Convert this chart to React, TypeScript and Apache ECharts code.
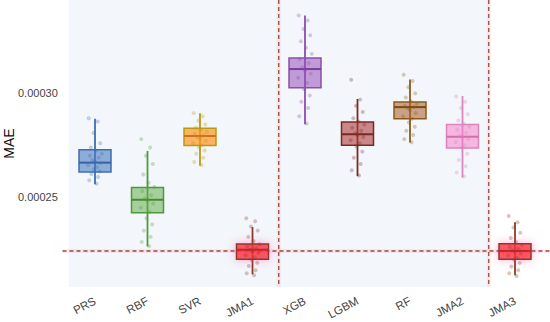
import { useEffect, useRef } from 'react';
import * as echarts from 'echarts';

const categories = ['PRS', 'RBF', 'SVR', 'JMA1', 'XGB', 'LGBM', 'RF', 'JMA2', 'JMA3'];

// [min, Q1, median, Q3, max]
const boxStats = [
  [0.0002563, 0.0002622, 0.0002667, 0.0002729, 0.0002878],
  [0.0002264, 0.0002426, 0.0002489, 0.0002547, 0.0002723],
  [0.0002652, 0.0002749, 0.0002795, 0.0002832, 0.0002905],
  [0.0002130, 0.0002203, 0.0002248, 0.0002276, 0.0002357],
  [0.0002851, 0.0003027, 0.0003117, 0.0003170, 0.0003375],
  [0.0002602, 0.0002751, 0.0002804, 0.0002862, 0.0002973],
  [0.0002764, 0.0002878, 0.0002934, 0.0002958, 0.0003067],
  [0.0002595, 0.0002737, 0.0002792, 0.0002850, 0.0002987],
  [0.0002125, 0.0002202, 0.0002242, 0.0002277, 0.0002380],
];

const pointsPRS = [0.000288, 0.0002865, 0.000281, 0.000276, 0.000274, 0.0002725, 0.000271, 0.00027, 0.000269, 0.000268, 0.0002672, 0.0002665, 0.0002655, 0.0002645, 0.0002635, 0.0002625, 0.0002612, 0.0002598, 0.0002582, 0.0002565];
const pointsRBF = [0.000278, 0.000274, 0.00027, 0.000266, 0.000261, 0.000257, 0.000255, 0.000253, 0.000251, 0.0002495, 0.0002485, 0.000247, 0.000245, 0.000243, 0.00024, 0.000237, 0.000234, 0.000231, 0.0002285, 0.0002265];
const pointsSVR = [0.0002905, 0.000289, 0.000287, 0.000285, 0.0002835, 0.0002825, 0.0002815, 0.0002805, 0.0002798, 0.000279, 0.0002782, 0.0002772, 0.000276, 0.000275, 0.000274, 0.0002725, 0.000271, 0.000269, 0.000267, 0.0002655];
const pointsJMA1 = [0.00024, 0.0002385, 0.000236, 0.000234, 0.000231, 0.000229, 0.0002275, 0.0002265, 0.0002255, 0.0002248, 0.000224, 0.0002232, 0.0002222, 0.0002212, 0.00022, 0.0002185, 0.000217, 0.000215, 0.0002135, 0.0002125];
const pointsXGB = [0.0003375, 0.000335, 0.000331, 0.000328, 0.000325, 0.000322, 0.000319, 0.0003165, 0.0003145, 0.0003125, 0.000311, 0.0003095, 0.0003075, 0.000305, 0.000302, 0.000299, 0.000296, 0.000293, 0.000289, 0.0002855];
const pointsLGBM = [0.0003066, 0.000297, 0.000294, 0.000291, 0.000288, 0.0002865, 0.000285, 0.0002835, 0.000282, 0.0002808, 0.00028, 0.000279, 0.0002775, 0.000276, 0.0002745, 0.000272, 0.000269, 0.000266, 0.000263, 0.0002605];
const pointsRF = [0.000309, 0.000306, 0.000303, 0.0003, 0.000298, 0.0002962, 0.000295, 0.000294, 0.0002935, 0.0002928, 0.000292, 0.0002905, 0.000289, 0.0002878, 0.000286, 0.000284, 0.000282, 0.00028, 0.000278, 0.0002765];
const pointsJMA2 = [0.0002985, 0.000296, 0.000293, 0.00029, 0.000287, 0.0002855, 0.000284, 0.0002825, 0.000281, 0.0002798, 0.000279, 0.000278, 0.0002765, 0.000275, 0.0002738, 0.000271, 0.000268, 0.000265, 0.000262, 0.00026];
const pointsJMA3 = [0.000241, 0.000238, 0.0002355, 0.000233, 0.0002305, 0.0002285, 0.0002272, 0.0002262, 0.0002252, 0.0002245, 0.0002238, 0.000223, 0.000222, 0.000221, 0.00022, 0.0002185, 0.0002168, 0.000215, 0.0002135, 0.0002122];
const pointSets = [pointsPRS, pointsRBF, pointsSVR, pointsJMA1, pointsXGB, pointsLGBM, pointsRF, pointsJMA2, pointsJMA3];

// horizontal jitter (in category units) of the strip points
const jitter = [-0.12, 0.05, -0.03, 0.1, -0.08, 0.02, 0.13, -0.1, 0.07, -0.05, 0.0, 0.11, -0.13, 0.04, -0.02, 0.09, -0.07, 0.06, -0.11, 0.03];

const yTicks = [0.00025, 0.0003];
const yMin = 0.0002069;
const yMax = 0.0003449;
const refValue = 0.0002242;
const dividers = [3.5, 7.5];
const refLineSpan = [-0.62, 8.72];

const fills = ['rgba(74,125,195,0.6)', 'rgba(100,175,80,0.55)', 'rgba(255,150,40,0.72)', 'rgba(255,45,45,0.75)', 'rgba(150,80,185,0.55)', 'rgba(175,60,60,0.6)', 'rgba(175,105,55,0.6)', 'rgba(245,130,205,0.55)', 'rgba(255,45,45,0.75)'];
const borders = ['#3f6eb0', '#4e9a3a', '#b99a10', '#8b3a2a', '#8a4fab', '#7a2a22', '#8b5a1a', '#d886bb', '#8b3a2a'];
const medians = ['#3a62a0', '#4a8a35', '#c8741a', '#c0282a', '#7a3f9a', '#7a2a22', '#7a4a10', '#d070aa', '#c0282a'];
const glow = [false, false, false, true, false, false, false, false, true];

const FONT = 'Liberation Sans, Arial, sans-serif';

export default function App() {
  const ref = useRef<HTMLDivElement>(null);
  useEffect(() => {
    if (!ref.current) return;
    const chart = echarts.init(ref.current, null, { renderer: 'svg' });
    const boxData = boxStats.map((v, i) => [i, ...v]);
    const pts: any[] = [];
    pointSets.forEach((arr, i) => {
      arr.forEach((v, j) => {
        pts.push({ value: [i + jitter[j % jitter.length], v], itemStyle: { color: borders[i], opacity: 0.3 } });
      });
    });
    const dashStyle = { stroke: '#9c4a30', lineWidth: 1.3, lineDash: [4, 3] };
    const haloStyle = { stroke: 'rgba(255,110,170,0.12)', lineWidth: 4 };
    chart.setOption({
      animation: false,
      backgroundColor: '#ffffff',
      grid: { left: 68.75, right: 8.75, top: 0, bottom: 35, containLabel: false, outerBoundsMode: 'none' },
      xAxis: [
        {
          type: 'category',
          data: categories,
          axisLine: { show: false },
          axisTick: { show: false },
          splitLine: { show: false },
          axisLabel: { rotate: 28, color: '#444', fontSize: 11.5, fontFamily: FONT, margin: 13 },
        },
        { type: 'value', min: -0.5, max: 8.5, show: false },
      ],
      yAxis: {
        type: 'value',
        min: yMin,
        max: yMax,
        axisLine: { show: false },
        axisTick: { show: false },
        splitLine: { show: false },
        axisLabel: {
          customValues: yTicks,
          formatter: (v: number) => v.toFixed(5),
          color: '#444',
          fontSize: 11,
          fontFamily: FONT,
          margin: 11,
        },
        name: 'MAE',
        nameLocation: 'middle',
        nameGap: 53,
        nameMoveOverlap: false,
        nameTextStyle: { fontSize: 14, color: '#111', fontFamily: FONT },
      },
      series: [
        {
          type: 'line',
          xAxisIndex: 1,
          data: [],
          z: 0,
          silent: true,
          markArea: {
            silent: true,
            itemStyle: { color: '#f3f6fb' },
            data: [[{ xAxis: -0.5 }, { xAxis: 7.5 }]],
          },
        },
        {
          type: 'custom',
          xAxisIndex: 1,
          z: 1,
          silent: true,
          clip: false,
          data: [[dividers[0], dividers[1], refValue]],
          encode: { x: [0, 1], y: 2 },
          renderItem: (params: any, api: any) => {
            const d0 = api.value(0);
            const d1 = api.value(1);
            const r = api.value(2);
            const a0 = api.coord([d0, yMax]);
            const b0 = api.coord([d0, yMin]);
            const a1 = api.coord([d1, yMax]);
            const b1 = api.coord([d1, yMin]);
            const h0 = api.coord([refLineSpan[0], r]);
            const h1 = api.coord([refLineSpan[1], r]);
            const segs = [
              [a0, b0],
              [a1, b1],
              [h0, h1],
            ];
            const children: any[] = [];
            segs.forEach(([p, q]) => {
              children.push({ type: 'line', shape: { x1: p[0], y1: p[1], x2: q[0], y2: q[1] }, style: haloStyle });
            });
            segs.forEach(([p, q]) => {
              children.push({ type: 'line', shape: { x1: p[0], y1: p[1], x2: q[0], y2: q[1] }, style: dashStyle });
            });
            return { type: 'group', children };
          },
        },
        {
          type: 'custom',
          xAxisIndex: 0,
          z: 2,
          silent: true,
          data: boxData,
          encode: { x: 0, y: [1, 2, 3, 4, 5] },
          renderItem: (params: any, api: any) => {
            const i = api.value(0);
            const half = 16;
            const pMin = api.coord([i, api.value(1)]);
            const pQ1 = api.coord([i, api.value(2)]);
            const pMed = api.coord([i, api.value(3)]);
            const pQ3 = api.coord([i, api.value(4)]);
            const pMax = api.coord([i, api.value(5)]);
            const x = pMed[0];
            const c = params.dataIndex;
            return {
              type: 'group',
              children: [
                {
                  type: 'line',
                  shape: { x1: x, y1: pMax[1], x2: x, y2: pMin[1] },
                  style: { stroke: borders[c], lineWidth: 1.8 },
                },
                {
                  type: 'rect',
                  shape: { x: x - half, y: pQ3[1], width: half * 2, height: pQ1[1] - pQ3[1] },
                  style: {
                    fill: fills[c],
                    stroke: borders[c],
                    lineWidth: 1.5,
                    shadowBlur: glow[c] ? 9 : 0,
                    shadowColor: glow[c] ? 'rgba(255,60,150,0.5)' : 'rgba(0,0,0,0)',
                  },
                },
                {
                  type: 'line',
                  shape: { x1: x - half, y1: pMed[1], x2: x + half, y2: pMed[1] },
                  style: { stroke: medians[c], lineWidth: 2 },
                },
              ],
            };
          },
        },
        {
          type: 'scatter',
          xAxisIndex: 1,
          z: 3,
          symbolSize: 4,
          silent: true,
          data: pts,
        },
      ],
    });
    return () => chart.dispose();
  }, []);
  return <div ref={ref} style={{ width: 550, height: 322, position: 'absolute', left: 0, top: 0 }} />;
}
